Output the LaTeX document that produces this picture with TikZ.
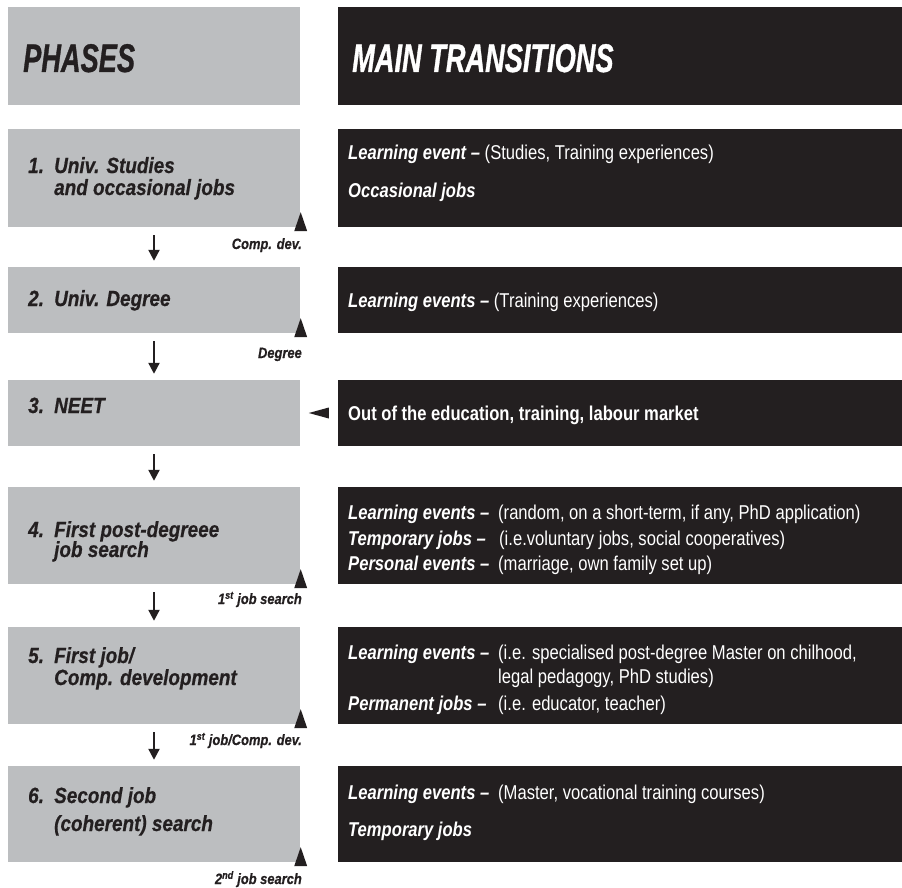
\documentclass[tikz,border=0pt]{standalone}
\usepackage{fontspec}
\setmainfont{Liberation Sans}
\newfontfamily\pf[FakeStretch=0.83]{Liberation Sans}
\newfontfamily\phf[FakeStretch=0.86,FakeBold=0.6]{Liberation Sans}
\newfontfamily\tf[FakeStretch=0.68,FakeBold=0.8]{Liberation Sans}
\usetikzlibrary{arrows.meta,calc}
\definecolor{boxgray}{HTML}{BCBEC0}
\definecolor{ink}{HTML}{231F20}
\begin{document}
\begin{tikzpicture}[x=1pt,y=-1pt,
  graybox/.style={fill=boxgray,draw=none,inner sep=0,minimum width=292pt},
  blackbox/.style={fill=ink,draw=none,inner sep=0,minimum width=564pt},
  title/.style={font=\tf\bfseries\itshape\fontsize{40}{40}\selectfont,anchor=base west,inner sep=0},
  phase/.style={font=\phf\bfseries\itshape\fontsize{22}{22}\selectfont,text=ink,anchor=base west,inner sep=0},
  rt/.style={font=\pf\fontsize{20}{24}\selectfont,text=white,anchor=base west,inner sep=0},
  rk/.style={font=\pf\bfseries\itshape\fontsize{20}{24}\selectfont,text=white,anchor=base west,inner sep=0},
  lab/.style={font=\phf\bfseries\itshape\fontsize{15}{15}\selectfont,text=ink,anchor=base east,inner sep=0},
  flow/.style={draw=ink,line width=2.2pt,-{Triangle[length=11pt,width=11pt]},shorten <=8pt,shorten >=6pt},
  tri/.style={fill=ink}
]
\useasboundingbox (0,0) rectangle (902,888);
% header
\node[graybox,minimum height=98pt] (h1) at (154,56) {};
\node[blackbox,minimum height=98pt] (h2) at (620,56) {};
\node[title,text=ink] (ht1) at (23,72) {PHASES};
\node[title,text=white] (ht2) at (352,72) {MAIN TRANSITIONS};
% rows
\node[graybox,minimum height=98pt] (r1) at (154,178) {};
\node[blackbox,minimum height=98pt] (b1) at (620,178) {};
\node[graybox,minimum height=66pt] (r2) at (154,300) {};
\node[blackbox,minimum height=66pt] (b2) at (620,300) {};
\node[graybox,minimum height=66pt] (r3) at (154,413) {};
\node[blackbox,minimum height=66pt] (b3) at (620,413) {};
\node[graybox,minimum height=97pt] (r4) at (154,535.5) {};
\node[blackbox,minimum height=97pt] (b4) at (620,535.5) {};
\node[graybox,minimum height=97pt] (r5) at (154,675.5) {};
\node[blackbox,minimum height=97pt] (b5) at (620,675.5) {};
\node[graybox,minimum height=96pt] (r6) at (154,814) {};
\node[blackbox,minimum height=96pt] (b6) at (620,814) {};
% phase labels
\node[phase] (p1n) at (28,173) {1.};
\node[phase] (p1a) at (54,173) {Univ. Studies};
\node[phase] (p1b) at (54,195) {and occasional jobs};
\node[phase] (p2n) at (28,306) {2.};
\node[phase] (p2a) at (54,306) {Univ. Degree};
\node[phase] (p3n) at (28,413) {3.};
\node[phase] (p3a) at (54,413) {NEET};
\node[phase] (p4n) at (28,537) {4.};
\node[phase] (p4a) at (54,537) {First post-degreee};
\node[phase] (p4b) at (54,557) {job search};
\node[phase] (p5n) at (28,663) {5.};
\node[phase] (p5a) at (54,663) {First job/};
\node[phase] (p5b) at (54,685) {Comp. development};
\node[phase] (p6n) at (28,803) {6.};
\node[phase] (p6a) at (54,803) {Second job};
\node[phase] (p6b) at (54,831) {(coherent) search};
% right texts
\node[rt] (t1a) at (348,160) {{\bfseries\itshape Learning event –} (Studies, Training experiences)};
\node[rk] (t1b) at (348,197) {Occasional jobs};
\node[rt] (t2a) at (348,307) {{\bfseries\itshape Learning events –} (Training experiences)};
\node[rt,font=\pf\bfseries\fontsize{20}{24}\selectfont] (t3a) at (348,420) {Out of the education, training, labour market};
\node[rk] (t4a) at (348,519) {Learning events –};
\node[rt] (t4b) at (498,519) {(random, on a short-term, if any, PhD application)};
\node[rk] (t4c) at (348,545) {Temporary jobs –};
\node[rt] (t4d) at (499,545) {(i.e.voluntary jobs, social cooperatives)};
\node[rk] (t4e) at (348,570) {Personal events –};
\node[rt] (t4f) at (498,570) {(marriage, own family set up)};
\node[rk] (t5a) at (348,659) {Learning events –};
\node[rt] (t5b) at (498,659) {(i.e. specialised post-degree Master on chilhood,};
\node[rt] (t5c) at (498,683) {legal pedagogy, PhD studies)};
\node[rk] (t5d) at (348,710) {Permanent jobs –};
\node[rt] (t5e) at (498,710) {(i.e. educator, teacher)};
\node[rk] (t6a) at (348,799) {Learning events –};
\node[rt] (t6b) at (498,799) {(Master, vocational training courses)};
\node[rk] (t6c) at (348,836) {Temporary jobs};
% small labels
\node[lab] (l1) at (302,249) {Comp. dev.};
\node[lab] (l2) at (302,358) {Degree};
\node[lab] (l4) at (302,604) {1\textsuperscript{st} job search};
\node[lab] (l5) at (302,745) {1\textsuperscript{st} job/Comp. dev.};
\node[lab] (l6) at (302,884) {2\textsuperscript{nd} job search};
% flow arrows
\draw[flow] (r1.south) -- (r2.north);
\draw[flow] (r2.south) -- (r3.north);
\draw[flow] (r3.south) -- (r4.north);
\draw[flow] (r4.south) -- (r5.north);
\draw[flow] (r5.south) -- (r6.north);
% up triangles
\foreach \r in {r1,r2,r4,r5,r6}{
  \fill[tri] ($(\r.south east)+(0.5,-15)$) -- ($(\r.south east)+(-6,4)$) -- ($(\r.south east)+(7,4)$) -- cycle;
}
% left triangle (NEET)
\fill[tri] ($(b3.west)+(-29,0)$) -- ($(b3.west)+(-9,-5.5)$) -- ($(b3.west)+(-9,5.5)$) -- cycle;
\end{tikzpicture}
\end{document}
